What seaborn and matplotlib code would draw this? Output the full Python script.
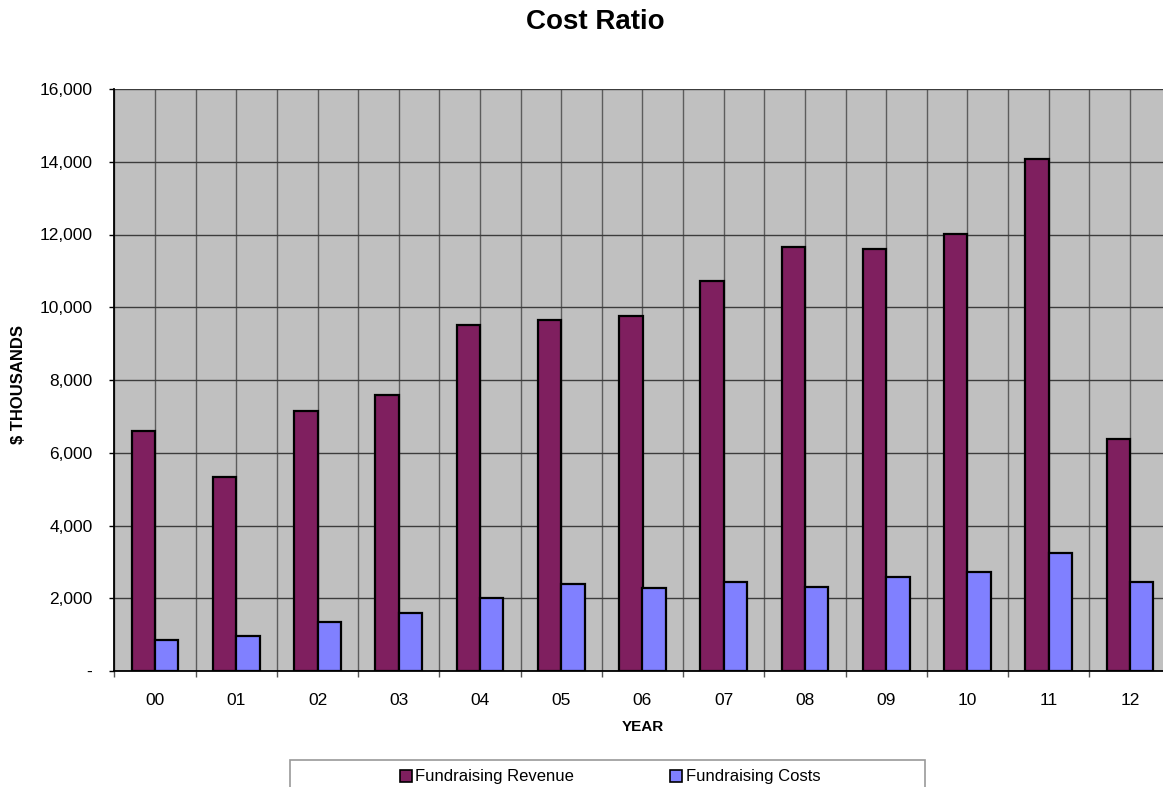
import numpy as np
import pandas as pd
import matplotlib
matplotlib.use("Agg")
import matplotlib.pyplot as plt
import matplotlib.transforms as mtransforms
from matplotlib.lines import Line2D
from matplotlib.patches import Rectangle
from matplotlib.ticker import FuncFormatter, MultipleLocator, FixedLocator
import seaborn as sns

# Fundraising figures, $ thousands
years = ["00", "01", "02", "03", "04", "05", "06", "07", "08", "09", "10", "11", "12"]
revenue = [6590, 5330, 7160, 7590, 9510, 9640, 9760, 10720, 11660, 11600, 12020, 14070, 6380]
costs = [850, 960, 1350, 1590, 2000, 2390, 2270, 2440, 2300, 2580, 2720, 3250, 2440]
series_names = ["Fundraising Revenue", "Fundraising Costs"]
colors = ["#7F1F5F", "#8080FF"]

df = pd.DataFrame({
    "year": years * 2,
    "value": revenue + costs,
    "series": [series_names[0]] * len(years) + [series_names[1]] * len(years),
})

sns.set_theme(style="white", rc={"text.color": "black", "axes.labelcolor": "black",
                                 "xtick.color": "black", "ytick.color": "black"})
plt.rcParams["font.family"] = ["Liberation Sans", "DejaVu Sans"]

W, H = 1163, 787
fig = plt.figure(figsize=(W / 100, H / 100), dpi=100)
fig.patch.set_facecolor("white")

# plot area in pixel terms
left_px, right_px, top_px, bottom_px = 114.4, 1170.6, 89, 671
ax = fig.add_axes([left_px / W, 1 - bottom_px / H,
                   (right_px - left_px) / W, (bottom_px - top_px) / H])
ax.set_facecolor("#C0C0C0")

sns.barplot(data=df, x="year", y="value", hue="series", order=years,
            hue_order=series_names, palette=colors, width=0.574,
            edgecolor="black", linewidth=1.6, saturation=1, ax=ax, legend=False)

ax.set_xlim(-0.5, len(years) - 0.5)
ax.set_ylim(0, 16000)

# gridlines: horizontal at every 2,000; vertical at category centres and edges
ax.yaxis.set_major_locator(MultipleLocator(2000))
ax.yaxis.set_major_formatter(FuncFormatter(lambda v, p: "-" if v == 0 else f"{int(v):,}"))
ax.set_xticks(range(len(years)))
ax.set_xticklabels(years)
ax.xaxis.set_minor_locator(FixedLocator(np.arange(-0.5, len(years), 1.0)))
ax.grid(axis="y", which="major", color="#3c3c3c", lw=1.0)
ax.grid(axis="x", which="both", color="#5c5c5c", lw=1.0)
ax.set_axisbelow(True)

ax.tick_params(axis="y", which="major", direction="out", length=3.8, width=1,
               color="black", labelsize=12.5, pad=12, left=True)
ax.tick_params(axis="x", which="major", length=0, labelsize=12.5, pad=15.5)
ax.tick_params(axis="x", which="minor", direction="out", length=4, width=1,
               color="#555555", bottom=True)

for side in ("top", "right"):
    ax.spines[side].set_visible(False)
for side in ("left", "bottom"):
    ax.spines[side].set_visible(True)
    ax.spines[side].set_color("black")
    ax.spines[side].set_linewidth(1.3)

ax.set_xlabel("YEAR", fontsize=11, fontweight="bold", va="center")
ax.xaxis.set_label_coords(0.5, 1 - 727 / H,
                          transform=mtransforms.blended_transform_factory(ax.transAxes, fig.transFigure))
ax.set_ylabel("$ THOUSANDS", fontsize=12, fontweight="bold", va="center")
ax.yaxis.set_label_coords(19 / W, 1 - 385 / H, transform=fig.transFigure)

fig.text(595 / W, 1 - 22 / H, "Cost Ratio", ha="center", va="center",
         fontsize=20, fontweight="bold")

# legend box along the bottom edge
fig.patches.append(Rectangle((290 / W, -0.05), (925 - 290) / W, 0.05 + (787 - 760) / H,
                             transform=fig.transFigure, facecolor="white",
                             edgecolor="#999999", lw=1.2))
handles = [Line2D([], [], marker="s", ls="none", markersize=9, markerfacecolor=c,
                  markeredgecolor="black", markeredgewidth=1.2) for c in colors]
fig.legend(handles, series_names, loc="center left", bbox_to_anchor=(400 / W, 1 - 777 / H),
           ncol=2, frameon=False, fontsize=12, handlelength=0.7, handletextpad=0.2,
           columnspacing=5.8, borderpad=0, borderaxespad=0)

fig.savefig("out.png", dpi=100)
